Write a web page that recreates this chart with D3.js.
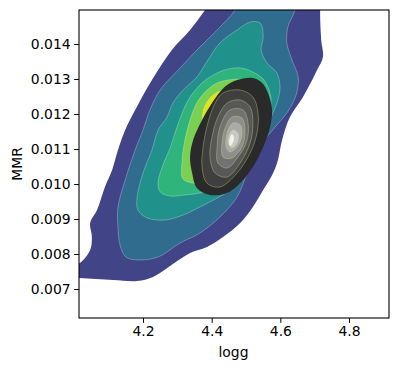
<!DOCTYPE html>
<html lang="en">
<head>
  <meta charset="UTF-8">
  <title>logg vs MMR density</title>
  <style>
    body { margin: 0; background: #fff; }
    svg { display: block; }
    text { font-family: "DejaVu Sans", sans-serif; fill: #000; }
    .axis path, .axis line { stroke: #000; }
  </style>
</head>
<body>
  <svg width="398" height="371"></svg>
  <script src="https://d3js.org/d3.v7.min.js"></script>
  <script>
    // tick values
    const xTicks = [4.2, 4.4, 4.6, 4.8];
    const yTicks = [0.007, 0.008, 0.009, 0.010, 0.011, 0.012, 0.013, 0.014];

    // filled density levels of the first sample (outermost first), [logg, MMR]
    const level1 = [[4.424,0.015543],[4.381,0.014971],[4.337,0.014400],[4.284,0.013829],[4.226,0.012971],
      [4.177,0.012114],[4.148,0.011543],[4.127,0.010971],[4.110,0.010400],[4.089,0.009914],[4.066,0.009257],
      [4.046,0.008886],[4.051,0.008486],[4.046,0.008114],[4.016,0.007743],[3.973,0.007600],[3.973,0.007343],
      [4.016,0.007314],[4.113,0.007257],[4.183,0.007229],[4.229,0.007343],[4.287,0.007714],[4.337,0.008029],
      [4.386,0.008200],[4.433,0.008486],[4.483,0.008886],[4.520,0.009343],[4.550,0.009829],[4.579,0.010314],
      [4.593,0.010686],[4.605,0.011257],[4.628,0.011914],[4.666,0.012486],[4.707,0.013257],[4.724,0.013629],
      [4.719,0.014114],[4.716,0.014971],[4.721,0.015543]];
    const level2 = [[4.497,0.015543],[4.468,0.014971],[4.416,0.014400],[4.357,0.013829],[4.308,0.013314],
      [4.250,0.012686],[4.220,0.012114],[4.200,0.011543],[4.177,0.010971],[4.148,0.010114],[4.127,0.009343],
      [4.127,0.008771],[4.133,0.008257],[4.150,0.007914],[4.185,0.007829],[4.244,0.007914],[4.308,0.008314],
      [4.366,0.008600],[4.424,0.009057],[4.474,0.009629],[4.503,0.010314],[4.518,0.010686],[4.547,0.011171],
      [4.585,0.011629],[4.619,0.012029],[4.646,0.012543],[4.652,0.013057],[4.634,0.013543],[4.619,0.014029],
      [4.622,0.014486],[4.643,0.014971],[4.652,0.015543]];
    const level3 = [[4.474,0.014400],[4.512,0.014629],[4.541,0.014600],[4.550,0.014200],[4.544,0.013829],
      [4.561,0.013457],[4.590,0.013171],[4.599,0.012771],[4.593,0.012400],[4.576,0.011971],[4.547,0.011257],
      [4.512,0.010543],[4.468,0.009914],[4.416,0.009600],[4.366,0.009343],[4.317,0.009114],[4.264,0.008971],
      [4.212,0.009029],[4.185,0.009257],[4.183,0.009629],[4.200,0.010314],[4.226,0.010971],[4.244,0.011543],
      [4.270,0.011914],[4.287,0.012314],[4.317,0.012686],[4.357,0.013057],[4.389,0.013543],[4.424,0.014029]];
    const level4 = [[4.375,0.012914],[4.410,0.013143],[4.448,0.013286],[4.485,0.013314],[4.520,0.013200],
      [4.550,0.013000],[4.567,0.012686],[4.573,0.012314],[4.558,0.011686],[4.512,0.010686],[4.439,0.009971],
      [4.366,0.009743],[4.322,0.009686],[4.279,0.009657],[4.250,0.009771],[4.244,0.010057],[4.258,0.010543],
      [4.279,0.011029],[4.296,0.011543],[4.314,0.012029],[4.337,0.012486]];
    const level5 = [[4.405,0.012830],[4.448,0.012971],[4.497,0.012971],[4.535,0.012800],[4.547,0.012400],
      [4.526,0.011543],[4.468,0.010543],[4.395,0.010030],[4.343,0.010030],[4.316,0.010150],[4.314,0.010686],
      [4.322,0.011257],[4.337,0.011829],[4.360,0.012370]];
    const level6 = [[4.401,0.012514],[4.430,0.012657],[4.453,0.012457],[4.430,0.011686],[4.395,0.011543],
      [4.375,0.011771],[4.378,0.012171]];

    // filled density levels of the second sample (grey), outermost first
    const grey1 = [[4.445,0.012829],[4.474,0.012971],[4.520,0.013029],[4.547,0.012886],[4.564,0.012600],
      [4.576,0.012114],[4.570,0.011629],[4.550,0.011057],[4.520,0.010486],[4.483,0.010029],[4.445,0.009743],
      [4.395,0.009686],[4.357,0.009886],[4.343,0.010314],[4.337,0.010771],[4.346,0.011257],[4.372,0.011829],
      [4.401,0.012314],[4.424,0.012629]];
    const grey2 = [[4.433,0.012600],[4.483,0.012686],[4.520,0.012486],[4.535,0.012029],[4.532,0.011457],
      [4.512,0.010886],[4.474,0.010314],[4.424,0.009914],[4.386,0.010029],[4.372,0.010486],[4.375,0.011057],
      [4.389,0.011743],[4.410,0.012314]];
    const grey3 = [[4.445,0.012314],[4.483,0.012400],[4.512,0.012200],[4.520,0.011743],[4.512,0.011171],
      [4.483,0.010600],[4.445,0.010200],[4.410,0.010314],[4.395,0.010771],[4.401,0.011343],[4.418,0.011914]];
    const grey4 = [[4.453,0.012114],[4.491,0.012114],[4.506,0.011743],[4.503,0.011257],[4.477,0.010771],
      [4.445,0.010457],[4.418,0.010600],[4.416,0.011057],[4.424,0.011629]];
    const grey5 = [[4.459,0.011914],[4.488,0.011886],[4.497,0.011543],[4.488,0.011057],[4.459,0.010743],
      [4.433,0.010771],[4.430,0.011171],[4.439,0.011600]];
    const grey6 = [[4.462,0.011743],[4.483,0.011686],[4.488,0.011400],[4.474,0.011057],[4.453,0.010914],
      [4.442,0.011057],[4.445,0.011457]];
    const grey7 = [[4.462,0.011543],[4.477,0.011457],[4.474,0.011171],[4.459,0.011029],[4.448,0.011171],
      [4.451,0.011400]];
    const grey8 = [[4.459,0.011429],[4.465,0.011343],[4.462,0.011171],[4.453,0.011086],[4.451,0.011257]];

    const levels = [level1, level2, level3, level4, level5, level6];
    const greyLevels = [grey1, grey2, grey3, grey4, grey5, grey6, grey7, grey8];

    const svg = d3.select("svg");
    const margin = { top: 10, right: 9, bottom: 53, left: 79 };
    const width = 398 - margin.left - margin.right;
    const height = 371 - margin.top - margin.bottom;

    const x = d3.scaleLinear().domain([4.0135, 4.9165]).range([0, width]);
    const y = d3.scaleLinear().domain([0.006171, 0.014971]).range([height, 0]);

    const g = svg.append("g").attr("transform", `translate(${margin.left},${margin.top})`);

    g.append("clipPath").attr("id", "plot-clip")
      .append("rect").attr("width", width).attr("height", height);

    const area = g.append("g").attr("clip-path", "url(#plot-clip)");

    const shape = d3.line()
      .x(d => x(d[0]))
      .y(d => y(d[1]))
      .curve(d3.curveCatmullRomClosed.alpha(0.5));

    const viridisT = [0.2, 0.35, 0.5, 0.65, 0.8, 0.95];

    area.selectAll("path.kde")
      .data(levels)
      .join("path")
      .attr("class", "kde")
      .attr("d", shape)
      .attr("fill", (d, i) => d3.interpolateViridis(viridisT[i]))
      .attr("stroke", (d, i) => i === 0 ? "none" : "rgba(255,255,255,0.35)")
      .attr("stroke-width", 0.8);

    const greys = ["#2a2a2a", "#3f3f3f", "#585858", "#727272", "#8e8e8e", "#aaaaaa", "#c8c8c8", "#f2f2f2"];

    area.selectAll("path.kde2")
      .data(greyLevels)
      .join("path")
      .attr("class", "kde2")
      .attr("d", shape)
      .attr("fill", (d, i) => greys[i])
      .attr("stroke", (d, i) => i === 0 ? "none" : "rgba(205,220,125,0.55)")
      .attr("stroke-width", 0.7);

    // axes
    const xAxis = g.append("g").attr("class", "axis")
      .attr("transform", `translate(0,${height})`)
      .call(d3.axisBottom(x).tickValues(xTicks).tickFormat(d3.format(".1f")).tickSizeOuter(0).tickSize(4.9).tickPadding(3.5));
    const yAxis = g.append("g").attr("class", "axis")
      .call(d3.axisLeft(y).tickValues(yTicks).tickFormat(d3.format(".3f")).tickSizeOuter(0).tickSize(4.9).tickPadding(3.5));
    g.selectAll(".axis text").attr("font-size", "13.9px").attr("font-family", "DejaVu Sans, sans-serif");
    xAxis.select(".domain").remove();
    yAxis.select(".domain").remove();

    g.append("rect")
      .attr("width", width).attr("height", height)
      .attr("fill", "none").attr("stroke", "#000").attr("stroke-width", 1.1);

    svg.append("text")
      .attr("x", margin.left + width / 2 - 0.5).attr("y", 357)
      .attr("text-anchor", "middle").attr("font-size", "13.9px")
      .text("logg");
    svg.append("text")
      .attr("transform", "translate(22,164) rotate(-90)")
      .attr("text-anchor", "middle").attr("font-size", "13.9px")
      .text("MMR");
  </script>
</body>
</html>
